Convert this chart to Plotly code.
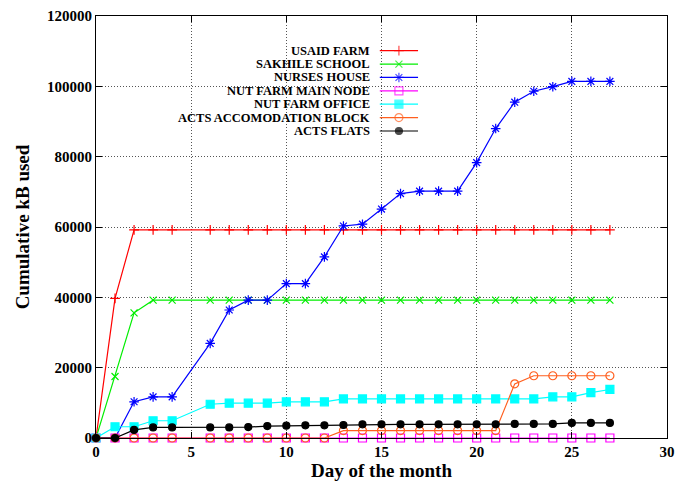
import plotly.graph_objects as go

days = [0, 1, 2, 3, 4, 6, 7, 8, 9, 10, 11, 12, 13, 14, 15, 16, 17, 18, 19, 20, 21, 22, 23, 24, 25, 26, 27]

usaid_farm = [0, 39700, 59200, 59200, 59200, 59200, 59200, 59200, 59200, 59200, 59200, 59200, 59200,
              59200, 59200, 59200, 59200, 59200, 59200, 59200, 59200, 59200, 59200, 59200, 59200, 59200, 59200]
sakhile_school = [0, 17500, 35600, 39200, 39200, 39200, 39200, 39200, 39200, 39200, 39200, 39200, 39200,
                  39200, 39200, 39200, 39200, 39200, 39200, 39200, 39200, 39200, 39200, 39200, 39200, 39200, 39200]
nurses_house = [0, 0, 10300, 11700, 11700, 26900, 36400, 39200, 39200, 43900, 43900, 51500, 60300,
                60800, 65100, 69500, 70200, 70200, 70200, 78300, 88000, 95500, 98600, 99900, 101400, 101400, 101400]
nut_farm_main_node = [0, 0, 0, 0, 0, 0, 0, 0, 0, 0, 0, 0, 0,
                      0, 0, 0, 0, 0, 0, 0, 0, 0, 0, 0, 0, 0, 0]
nut_farm_office = [0, 3200, 3200, 4900, 4900, 9600, 9900, 9900, 9900, 10300, 10300, 10300, 11100,
                   11100, 11100, 11100, 11100, 11100, 11100, 11100, 11100, 11100, 11100, 11700, 11700, 12900, 13800]
acts_accomodation = [0, 0, 0, 0, 0, 0, 0, 0, 0, 0, 0, 0, 2100,
                     2100, 2100, 2100, 2100, 2100, 2100, 2100, 2100, 15400, 17700, 17700, 17700, 17700, 17700]
acts_flats = [0, 0, 2300, 3000, 3000, 3000, 3000, 3100, 3400, 3500, 3600, 3600, 3700,
              3900, 3900, 3900, 3900, 3900, 3900, 3900, 3900, 4000, 4000, 4000, 4300, 4300, 4300]

series_names = ["USAID FARM", "SAKHILE SCHOOL", "NURSES HOUSE", "NUT FARM MAIN NODE",
                "NUT FARM OFFICE", "ACTS ACCOMODATION BLOCK", "ACTS FLATS"]
series_values = [usaid_farm, sakhile_school, nurses_house, nut_farm_main_node,
                 nut_farm_office, acts_accomodation, acts_flats]
colors = ["#ff0000", "#00ee00", "#0000ff", "#ff00ff", "#00ffff", "#ff5f1f", "#000000"]
symbols = ["cross-thin", "x-thin", "asterisk", "square-open", "square", "circle-open", "circle"]
msizes = [7, 7, 8, 8, 8, 8, 7]

x_ticks = [0, 5, 10, 15, 20, 25, 30]
y_ticks = [0, 20000, 40000, 60000, 80000, 100000, 120000]

FONT = "Liberation Serif"

fig = go.Figure()

for name, vals, c, s, ms in zip(series_names, series_values, colors, symbols, msizes):
    fig.add_trace(go.Scatter(
        x=days, y=vals, name=name, mode="lines+markers",
        line=dict(color=c, width=1.2),
        marker=dict(symbol=s, size=ms, color=c, line=dict(color=c, width=1.2)),
        showlegend=False, cliponaxis=False,
    ))

# Custom gnuplot-style key (text right-aligned, sample to the right)
key_text_x = 0.4834
key_line_x0, key_line_x1 = 0.497, 0.564
row_top_px, row_step_px = 50.7, 13.38
plot_top_px, plot_h_px = 16, 422
for i, (name, c, s, ms) in enumerate(zip(series_names, colors, symbols, msizes)):
    yp = 1 - (row_top_px + row_step_px * i - plot_top_px) / plot_h_px
    fig.add_annotation(x=key_text_x, y=yp, xref="paper", yref="paper", text=f"<b>{name}</b>",
                       showarrow=False, xanchor="right", yanchor="middle",
                       font=dict(family=FONT, size=12.5, color="black"))
    fig.add_trace(go.Scatter(
        x=[key_line_x0, (key_line_x0 + key_line_x1) / 2, key_line_x1], y=[yp, yp, yp],
        xaxis="x2", yaxis="y2", mode="lines+markers", showlegend=False, hoverinfo="skip",
        line=dict(color=c, width=1.2),
        marker=dict(symbol=s, size=[0, ms, 0], color=c, line=dict(color=c, width=1.2)),
    ))

# opaque key box covering grid lines
fig.add_shape(type="rect", xref="paper", yref="paper", x0=0.159, x1=0.578, y0=0.713, y1=0.934,
              fillcolor="white", line=dict(width=0), layer="between")

axis_common = dict(showline=True, linecolor="black", linewidth=1, mirror="ticks",
                   ticks="inside", ticklen=6, tickcolor="black", tickwidth=1,
                   showgrid=True, gridcolor="#555555", griddash="1px,2px", gridwidth=1,
                   zeroline=False, automargin=False,
                   tickfont=dict(family=FONT, size=15, color="black"))

fig.update_layout(
    width=690, height=481,
    margin=dict(l=96, r=23, t=16, b=43),
    paper_bgcolor="white", plot_bgcolor="white",
    font=dict(family=FONT, color="black"),
    xaxis=dict(range=[0, 30], tickvals=x_ticks, ticktext=[f"<b>{v}</b>" for v in x_ticks],
               title=dict(text="<b>Day of the month</b>", font=dict(family=FONT, size=19), standoff=1),
               **axis_common),
    yaxis=dict(range=[0, 120000], tickvals=y_ticks, ticktext=[f"<b>{v}</b>" for v in y_ticks],
               title=dict(text="<b>Cumulative kB used</b>", font=dict(family=FONT, size=19), standoff=12),
               **axis_common),
    xaxis2=dict(overlaying="x", range=[0, 1], visible=False, fixedrange=True),
    yaxis2=dict(overlaying="y", range=[0, 1], visible=False, fixedrange=True),
)

fig.write_html("out.html")
